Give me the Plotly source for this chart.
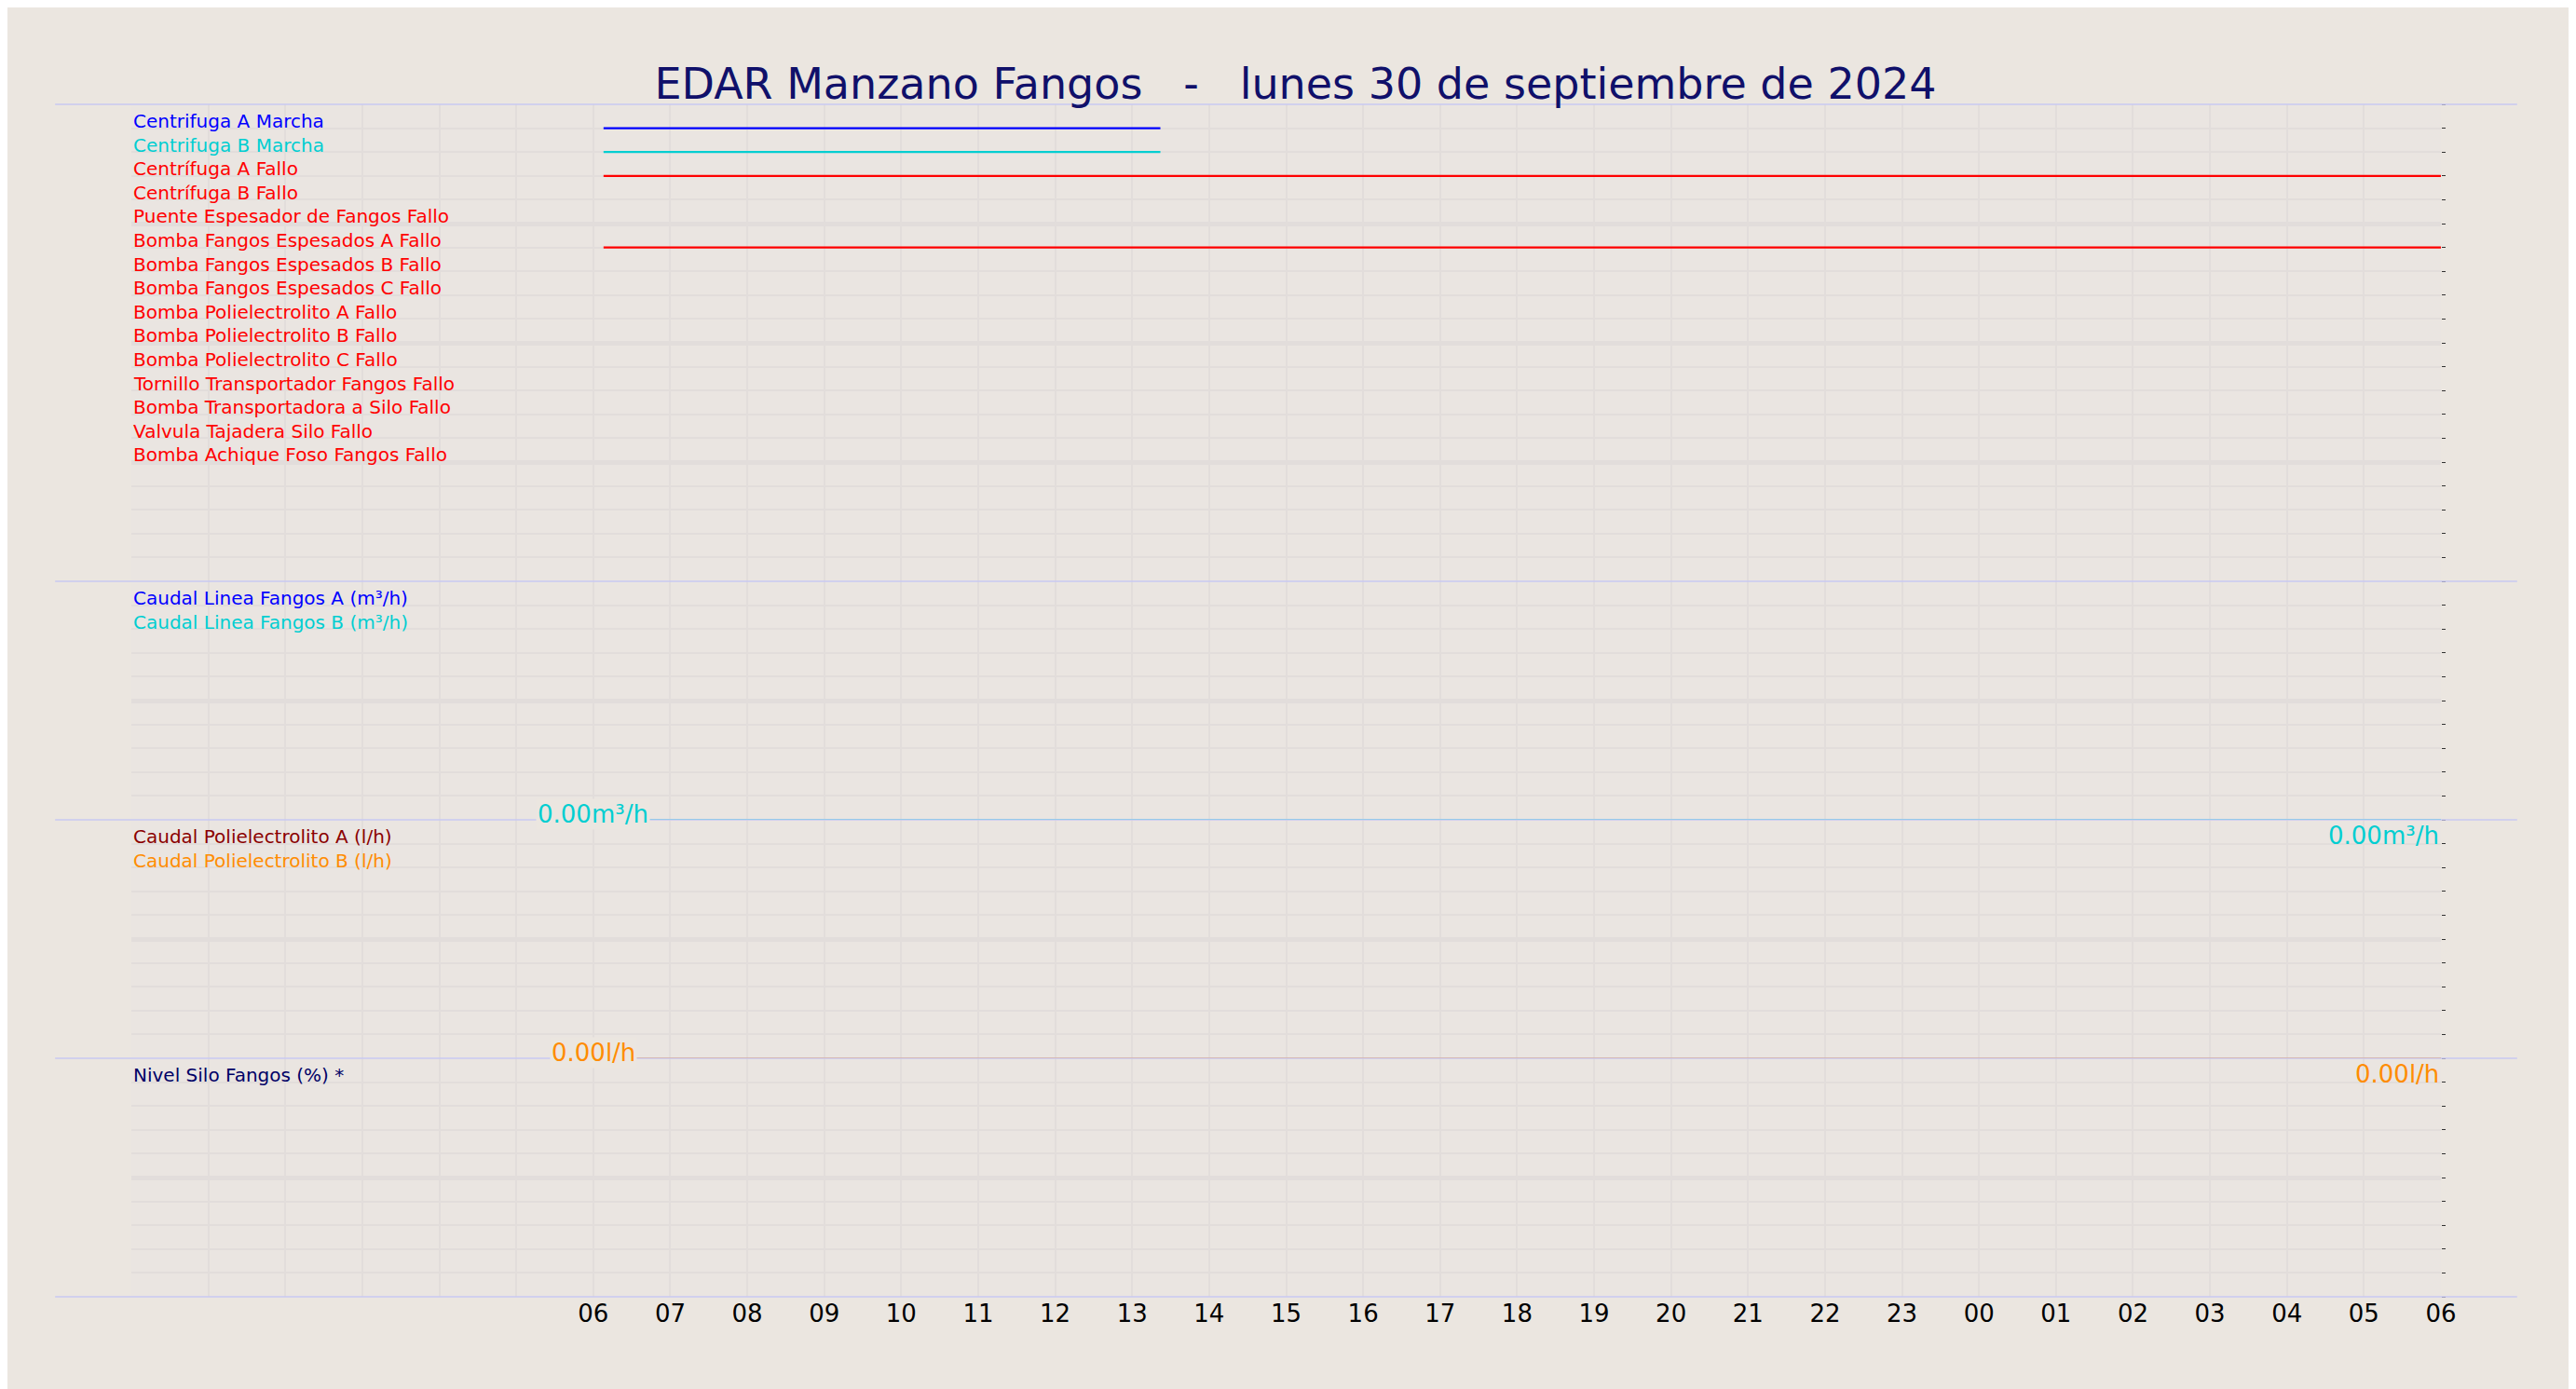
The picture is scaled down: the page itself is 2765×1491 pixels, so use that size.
import plotly.graph_objects as go
from plotly.subplots import make_subplots

title = "EDAR Manzano Fangos   -   lunes 30 de septiembre de 2024"

# panel 1: señales digitales (marcha / fallo)
digital_names = ["Centrifuga A Marcha", "Centrifuga B Marcha", "Centrífuga A Fallo", "Centrífuga B Fallo",
                 "Puente Espesador de Fangos Fallo", "Bomba Fangos Espesados A Fallo",
                 "Bomba Fangos Espesados B Fallo", "Bomba Fangos Espesados C Fallo",
                 "Bomba Polielectrolito A Fallo", "Bomba Polielectrolito B Fallo",
                 "Bomba Polielectrolito C Fallo", "Tornillo Transportador Fangos Fallo",
                 "Bomba Transportadora a Silo Fallo", "Valvula Tajadera Silo Fallo",
                 "Bomba Achique Foso Fangos Fallo"]
digital_colors = ["#0000FF", "#00CED1"] + ["#FF0000"] * 13
digital_start = ["2024-09-30 06:08", "2024-09-30 06:08", "2024-09-30 06:08", None, None,
                 "2024-09-30 06:08", None, None, None, None, None, None, None, None, None]
digital_end = ["2024-09-30 13:22", "2024-09-30 13:22", "2024-10-01 06:00", None, None,
               "2024-10-01 06:00", None, None, None, None, None, None, None, None, None]

# panel 2 y 3: caudales
caudal_names = ["Caudal Linea Fangos A (m³/h)", "Caudal Linea Fangos B (m³/h)"]
caudal_colors = ["#0000FF", "#00CED1"]
poli_names = ["Caudal Polielectrolito A (l/h)", "Caudal Polielectrolito B (l/h)"]
poli_colors = ["#8B0000", "#FF8C00"]
t_analog = ["2024-09-30 06:00", "2024-10-01 06:00"]
caudal_vals = [0.0, 0.0]
poli_vals = [0.0, 0.0]

nivel_names = ["Nivel Silo Fangos (%) *"]
nivel_colors = ["#000066"]

x_start, x_end = "2024-09-30 00:00", "2024-10-01 06:00"
hour_ticks = ["2024-09-30 %02d:00" % h for h in range(6, 24)] + ["2024-10-01 %02d:00" % h for h in range(0, 7)]
hour_text = [t[-5:-3] for t in hour_ticks]
grid_hours = ["2024-09-30 %02d:00" % h for h in range(0, 6)]

font = "DejaVu Sans"
grid = "#E2DDDB"
frame = "#C8C8F2"

fig = make_subplots(rows=4, cols=1, shared_xaxes=False, vertical_spacing=0,
                    row_heights=[2, 1, 1, 1])

ann = []

def label(y, text, color, yref):
    ann.append(dict(x=0, xref="paper", y=y, yref=yref, text=text, showarrow=False,
                    xanchor="left", yanchor="middle", font=dict(family=font, size=20, color=color)))

for i, name in enumerate(digital_names):
    lvl = 19 - i
    if digital_start[i]:
        fig.add_trace(go.Scatter(x=[digital_start[i], digital_end[i]], y=[lvl, lvl], mode="lines",
                                 line=dict(color=digital_colors[i], width=2.2), showlegend=False), 1, 1)
    label(lvl + 0.3, name, digital_colors[i], "y")

for i, name in enumerate(caudal_names):
    fig.add_trace(go.Scatter(x=t_analog, y=caudal_vals, mode="lines", cliponaxis=False,
                             line=dict(color=caudal_colors[i], width=2), showlegend=False), 2, 1)
    label(9.3 - i, name, caudal_colors[i], "y2")

for i, name in enumerate(poli_names):
    fig.add_trace(go.Scatter(x=t_analog, y=poli_vals, mode="lines", cliponaxis=False,
                             line=dict(color=poli_colors[i], width=2), showlegend=False), 3, 1)
    label(9.3 - i, name, poli_colors[i], "y3")

fig.add_trace(go.Scatter(x=[x_start, x_end], y=[None, None], mode="lines", showlegend=False), 4, 1)
label(9.3, nivel_names[0], nivel_colors[0], "y4")

# valores actuales
for yref, val, unit, color in [("y2", caudal_vals, "m³/h", "#00CED1"), ("y3", poli_vals, "l/h", "#FF8C00")]:
    xref = "x2" if yref == "y2" else "x3"
    ann.append(dict(x="2024-09-30 06:00", xref=xref, y=val[0], yref=yref, text="%.2f%s" % (val[0], unit),
                    showarrow=False, xanchor="center", yanchor="middle", bgcolor="#EBE6E0", yshift=6,
                    font=dict(family=font, size=26, color=color)))
    ann.append(dict(x=x_end, xref=xref, y=val[-1], yref=yref, text="%.2f%s" % (val[-1], unit), showarrow=False,
                    xanchor="right", yanchor="top", font=dict(family=font, size=26, color=color)))

for r, top in zip(range(1, 5), [20, 10, 10, 10]):
    fig.update_yaxes(range=[0, top], tickvals=list(range(0, top + 1, 5)), showticklabels=False,
                     showgrid=True, gridcolor=grid, gridwidth=5, zeroline=False,
                     minor=dict(dtick=1, showgrid=True, gridcolor=grid, gridwidth=2,
                                ticks="outside", ticklen=4, tickcolor="#333"),
                     side="right", ticks="outside", ticklen=4, tickcolor="#333",
                     showline=False, fixedrange=True, row=r, col=1)

for r in range(1, 5):
    fig.update_xaxes(type="date", range=[x_start, x_end], tickvals=grid_hours + hour_ticks,
                     ticktext=[""] * len(grid_hours) + hour_text,
                     showgrid=True, gridcolor=grid, gridwidth=2, zeroline=False, showline=False,
                     tickfont=dict(family=font, size=26, color="black"), ticks="",
                     showticklabels=(r == 4), row=r, col=1)

# marcos horizontales entre paneles
shapes = []
for yy in [0, 0.2, 0.4, 0.6, 1.0]:
    shapes.append(dict(type="line", xref="paper", yref="paper", x0=-0.033, x1=1.033, y0=yy, y1=yy,
                       line=dict(color=frame, width=1.5)))
shapes.append(dict(type="line", xref="x4", yref="paper", x0="2024-09-30 06:00", x1="2024-09-30 06:00",
                   y0=0, y1=1, line=dict(color=frame, width=1.5), layer="below"))

fig.update_layout(
    width=2765, height=1491,
    paper_bgcolor="#EBE6E0", plot_bgcolor="#EAE5E1",
    margin=dict(l=133, r=153, t=104, b=107),
    title=dict(text=title, x=0.5, xanchor="center", y=0.945, yanchor="middle",
               font=dict(family=font, size=46, color="#10106A")),
    annotations=ann, shapes=shapes, showlegend=False,
)

fig.write_html("out.html")
